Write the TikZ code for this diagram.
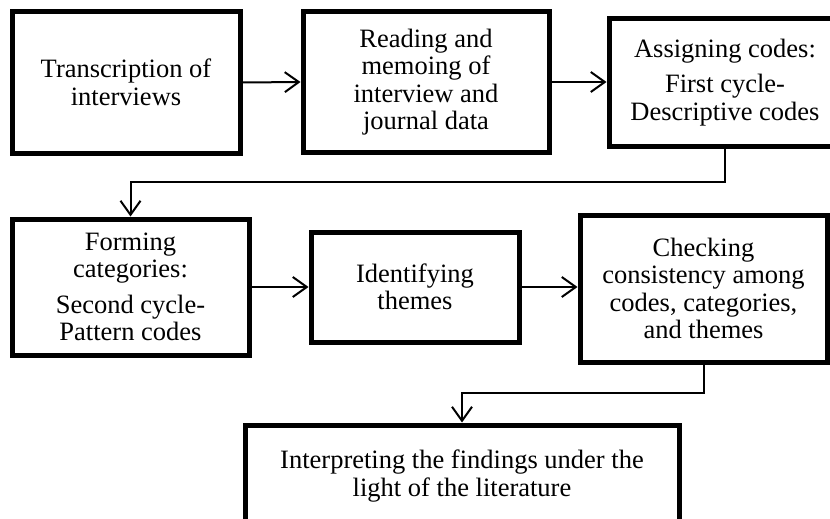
\documentclass[tikz,border=0pt]{standalone}
\usepackage{fontspec}
\setmainfont{Liberation Serif}
\usetikzlibrary{arrows.meta}
\begin{document}
\begin{tikzpicture}[x=1pt,y=-1pt,
  box/.style={draw, line width=5pt, align=center, inner sep=0pt,
    font=\fontsize{26.5}{27.5}\selectfont},
  arr/.style={line width=2pt, -{Straight Barb[length=14pt,width=20pt,line width=2pt]}},
  conn/.style={line width=2pt}]
\clip (0,0) rectangle (830,519);
\node[box, minimum width=228pt, minimum height=141pt] (b1) at (126,82.5)
  {Transcription of\\interviews};
\node[box, minimum width=246pt, minimum height=140pt] (b2) at (426,82)
  {Reading and\\memoing of\\interview and\\journal data};
\node[box, minimum width=232pt, minimum height=127pt] (b3) at (725,82.5)
  {Assigning codes:\\[8pt]First cycle-\\Descriptive codes};
\node[box, minimum width=237pt, minimum height=136pt] (b4) at (130.5,287)
  {Forming\\categories:\\[8pt]Second cycle-\\Pattern codes};
\node[box, minimum width=208pt, minimum height=110pt] (b5) at (415,287)
  {Identifying\\themes};
\node[box, minimum width=247pt, minimum height=147pt] (b6) at (703.5,288.5)
  {Checking\\consistency among\\codes, categories,\\and themes};
\node[box, minimum width=434pt, minimum height=102pt] (b7) at (462,476)
  {Interpreting the findings under the\\light of the literature};
\coordinate (k1) at (0,182);
\coordinate (k2) at (0,393);
\draw[arr] (b1.east) -- (b2.west);
\draw[arr] (b2.east) -- (b3.west |- b2.east);
\draw[arr] (b4.east) -- (b5.west |- b4.east);
\draw[arr] (b5.east) -- (b6.west |- b5.east);
\draw[arr] (b3.south) -- (b3.south |- k1) -| (b4.north);
\draw[arr] (b6.south) -- (b6.south |- k2) -| (b7.north);
\end{tikzpicture}
\end{document}
